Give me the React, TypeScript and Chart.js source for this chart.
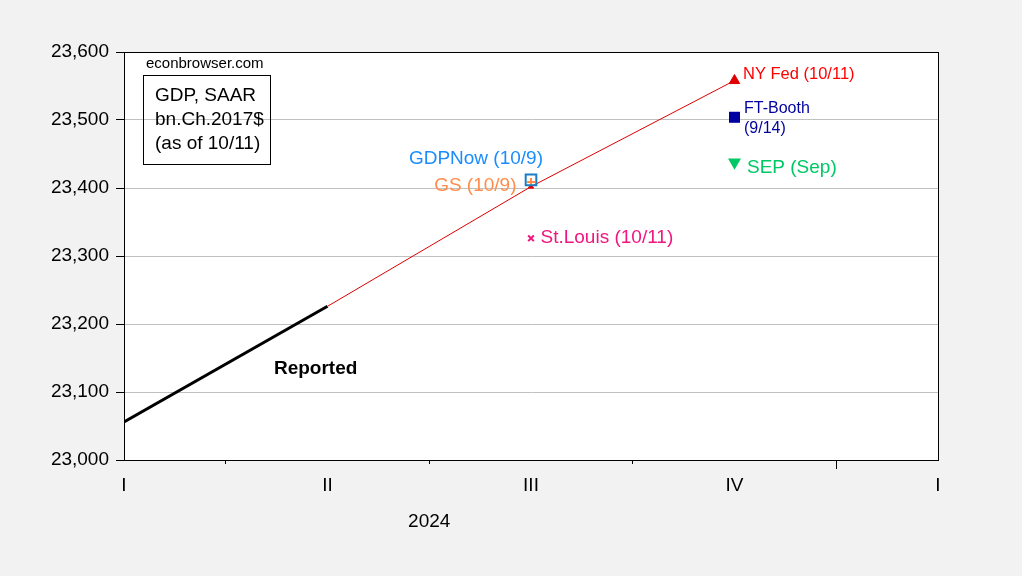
import React, { useEffect, useRef } from "react";
import { Chart, registerables } from "chart.js";

Chart.register(...registerables);

// Quarter positions: 0 = 2024Q1, 1 = Q2, 2 = Q3, 3 = Q4, 4 = 2025Q1
const quarterLabels = ["I", "II", "III", "IV", "I"];
const yTicks = [23000, 23100, 23200, 23300, 23400, 23500, 23600];

const reportedX = [0, 1];
const reportedY = [23056, 23226];

const nyFedX = [1, 2, 3];
const nyFedY = [23226, 23402, 23558];

const gdpNow = { x: 2, y: 23412 };
const gs = { x: 2, y: 23409 };
const stLouis = { x: 2, y: 23326 };
const ftBooth = { x: 3, y: 23504 };
const sep = { x: 3, y: 23438 };

const FONT = "'Liberation Sans', Arial, sans-serif";

export default function App() {
  const ref = useRef<HTMLCanvasElement | null>(null);

  useEffect(() => {
    const canvas = ref.current;
    if (!canvas) return;

    const bgPlugin = {
      id: "bg",
      beforeDraw(chart: any) {
        const { ctx, chartArea } = chart;
        ctx.save();
        ctx.fillStyle = "#f2f2f2";
        ctx.fillRect(0, 0, chart.width, chart.height);
        ctx.fillStyle = "#ffffff";
        ctx.fillRect(chartArea.left, chartArea.top, chartArea.right - chartArea.left, chartArea.bottom - chartArea.top);
        ctx.restore();
      },
    };

    const annPlugin = {
      id: "ann",
      afterDraw(chart: any) {
        const { ctx, chartArea } = chart;
        const xs = chart.scales.x;
        const ys = chart.scales.y;
        const px = (v: number) => xs.getPixelForValue(v);
        const py = (v: number) => ys.getPixelForValue(v);
        ctx.save();
        // frame
        ctx.strokeStyle = "#000";
        ctx.lineWidth = 1;
        ctx.strokeRect(Math.round(chartArea.left) + 0.5, Math.round(chartArea.top) + 0.5,
          Math.round(chartArea.right - chartArea.left), Math.round(chartArea.bottom - chartArea.top));
        // year-boundary tick
        ctx.beginPath();
        ctx.moveTo(Math.round(px(3.5)) + 0.5, chartArea.bottom);
        ctx.lineTo(Math.round(px(3.5)) + 0.5, chartArea.bottom + 9);
        ctx.stroke();

        ctx.textBaseline = "alphabetic";
        const txt = (s: string, x: number, y: number, color: string, size: number, align = "left", bold = false) => {
          ctx.font = `${bold ? "bold " : ""}${size}px ${FONT}`;
          ctx.fillStyle = color;
          ctx.textAlign = align;
          ctx.fillText(s, x, y);
        };

        txt("econbrowser.com", chartArea.left + 22, chartArea.top + 16, "#000", 15);
        // box
        ctx.strokeStyle = "#000";
        ctx.lineWidth = 1;
        ctx.strokeRect(143.5, 75.5, 127, 89);
        txt("GDP, SAAR", 155, 101, "#000", 19);
        txt("bn.Ch.2017$", 155, 125, "#000", 19);
        txt("(as of 10/11)", 155, 149, "#000", 19);

        txt("NY Fed (10/11)", px(nyFedX[2]) + 8.5, py(nyFedY[2]) - 2, "#ff0000", 16.5);
        txt("FT-Booth", px(ftBooth.x) + 9.5, py(ftBooth.y) - 4, "#0000a0", 16);
        txt("(9/14)", px(ftBooth.x) + 9.5, py(ftBooth.y) + 16, "#0000a0", 16);
        txt("SEP (Sep)", px(sep.x) + 12.5, py(sep.y) + 11, "#00c864", 19);
        txt("GDPNow (10/9)", px(gdpNow.x) + 12, py(gdpNow.y) - 16, "#1a8cff", 19, "right");
        txt("GS (10/9)", px(gs.x) - 14.5, py(gs.y) + 9.5, "#ff8c4a", 19, "right");
        txt("St.Louis (10/11)", px(stLouis.x) + 9.5, py(stLouis.y) + 5, "#f0157f", 19);
        txt("Reported", px(0.737), py(23000) - 86, "#000", 19, "left", true);
        txt("2024", px(1.5), chartArea.bottom + 67, "#000", 19, "center");
        ctx.restore();
      },
    };

    const chart = new Chart(canvas, {
      type: "line",
      data: {
        datasets: [
          {
            label: "Reported",
            data: reportedX.map((x, i) => ({ x, y: reportedY[i] })),
            borderColor: "#000",
            borderWidth: 3,
            pointRadius: 0,
            order: 2,
          },
          {
            label: "NY Fed",
            data: nyFedX.map((x, i) => ({ x, y: nyFedY[i] })),
            borderColor: "#e00000",
            backgroundColor: "#e00000",
            borderWidth: 1,
            pointStyle: "triangle",
            pointRadius: [0, 3, 6],
            pointBorderWidth: 1,
            order: 1,
          },
          {
            label: "GDPNow",
            data: [gdpNow],
            showLine: false,
            pointStyle: "rect",
            pointRadius: 7.5,
            pointBorderWidth: 2,
            pointBorderColor: "#1c7cc4",
            pointBackgroundColor: "rgba(0,0,0,0)",
            order: 0,
          },
          {
            label: "GS",
            data: [gs],
            showLine: false,
            pointStyle: "cross",
            pointRadius: 4,
            pointBorderWidth: 2,
            pointBorderColor: "#ff8c4a",
            order: 0,
          },
          {
            label: "St.Louis",
            data: [stLouis],
            showLine: false,
            pointStyle: "crossRot",
            pointRadius: 4,
            pointBorderWidth: 2,
            pointBorderColor: "#f0157f",
            order: 0,
          },
          {
            label: "FT-Booth",
            data: [ftBooth],
            showLine: false,
            pointStyle: "rect",
            pointRadius: 7.8,
            pointBorderWidth: 0,
            pointBackgroundColor: "#0000a0",
            order: 0,
          },
          {
            label: "SEP",
            data: [sep],
            showLine: false,
            pointStyle: "triangle",
            rotation: 180,
            pointRotation: 180,
            pointRadius: 7.5,
            pointBorderWidth: 0,
            pointBackgroundColor: "#00c864",
            order: 0,
          } as any,
        ],
      },
      options: {
        animation: false,
        responsive: false,
        events: [],
        layout: { padding: { left: 0, right: 84, top: 52, bottom: 0 } },
        plugins: { legend: { display: false }, tooltip: { enabled: false } },
        scales: {
          x: {
            type: "linear",
            min: 0,
            max: quarterLabels.length - 1,
            afterBuildTicks: (scale: any) => {
              const t = [];
              for (let v = 0; v <= quarterLabels.length - 1; v += 0.5) t.push({ value: v });
              scale.ticks = t;
            },
            afterFit: (scale: any) => {
              scale.height = 116;
            },
            ticks: {
              autoSkip: false,
              maxRotation: 0,
              padding: 10,
              color: "#000",
              font: { family: FONT, size: 19 },
              callback: (v: any) => (Number.isInteger(v) ? quarterLabels[v] : ""),
            },
            grid: {
              drawOnChartArea: false,
              tickLength: 4,
              tickColor: (ctx: any) => (ctx.tick && Number.isInteger(ctx.tick.value) ? "rgba(0,0,0,0)" : "#000"),
            },
            border: { color: "#000" },
          },
          y: {
            type: "linear",
            min: yTicks[0],
            max: yTicks[yTicks.length - 1],
            afterBuildTicks: (scale: any) => {
              scale.ticks = yTicks.map((v) => ({ value: v }));
            },
            afterFit: (scale: any) => {
              scale.width = 124;
            },
            ticks: {
              padding: 7,
              color: "#000",
              font: { family: FONT, size: 19 },
              callback: (v: any) => Number(v).toLocaleString("en-US"),
            },
            grid: { color: "#c0c0c0", tickColor: "#000", tickLength: 8 },
            border: { color: "#000" },
          },
        },
      },
      plugins: [bgPlugin, annPlugin],
    });

    return () => chart.destroy();
  }, []);

  return (
    <div style={{ position: "absolute", left: 0, top: 0, width: 1022, height: 576 }}>
      <canvas ref={ref} width={1022} height={576} style={{ display: "block" }} />
    </div>
  );
}
